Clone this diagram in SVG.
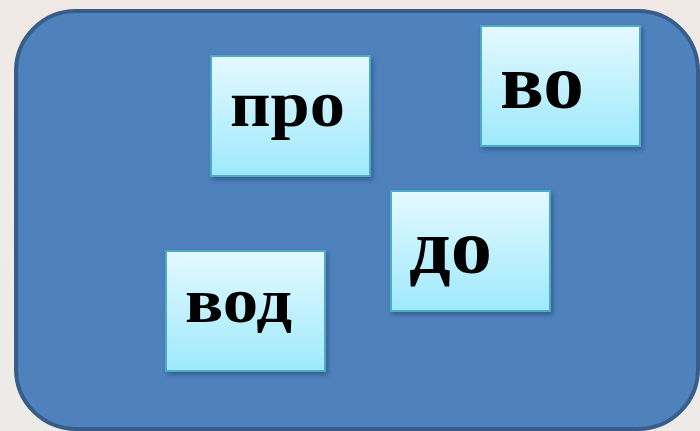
<svg xmlns="http://www.w3.org/2000/svg" width="700" height="431" viewBox="0 0 700 431">
<defs>
<linearGradient id="bg" x1="0" y1="0" x2="0" y2="1">
<stop offset="0" stop-color="#f0e8e4"/>
<stop offset="0.3" stop-color="#eeeceb"/>
<stop offset="1" stop-color="#ecebe8"/>
</linearGradient>
<linearGradient id="box" x1="0" y1="0" x2="0" y2="1">
<stop offset="0" stop-color="#e4f9ff"/>
<stop offset="1" stop-color="#9ee9fc"/>
</linearGradient>
<filter id="sh" x="-10%" y="-10%" width="125%" height="125%">
<feDropShadow dx="2" dy="3" stdDeviation="2" flood-color="#1d3557" flood-opacity="0.45"/>
</filter>
<style>
.panel{fill:#4f81bd;stroke:#385d8a;stroke-width:4}
.box{fill:url(#box);stroke:#4bacc6;stroke-width:2;filter:url(#sh)}
.t{font-family:"Liberation Serif","DejaVu Serif",serif;font-weight:bold;fill:#000}
</style>
</defs>
<rect width="700" height="431" fill="url(#bg)"/>
<rect class="panel" x="16" y="11" width="682" height="418" rx="60" ry="60"/>
<g id="node-pro">
<rect class="box" x="211" y="56" width="159" height="120"/>
<text class="t" x="230" y="126" font-size="66" textLength="115" lengthAdjust="spacingAndGlyphs">про</text>
</g>
<g id="node-vo">
<rect class="box" x="481" y="26" width="159" height="120"/>
<text class="t" x="500" y="108" font-size="78" textLength="84" lengthAdjust="spacingAndGlyphs">во</text>
</g>
<g id="node-do">
<rect class="box" x="391" y="191" width="159" height="120"/>
<text class="t" x="409" y="273" font-size="78" textLength="83" lengthAdjust="spacingAndGlyphs">до</text>
</g>
<g id="node-vod">
<rect class="box" x="166" y="251" width="159" height="120"/>
<text class="t" x="185" y="322" font-size="64" textLength="107" lengthAdjust="spacingAndGlyphs">вод</text>
</g>
<g id="connectors"/>
</svg>
